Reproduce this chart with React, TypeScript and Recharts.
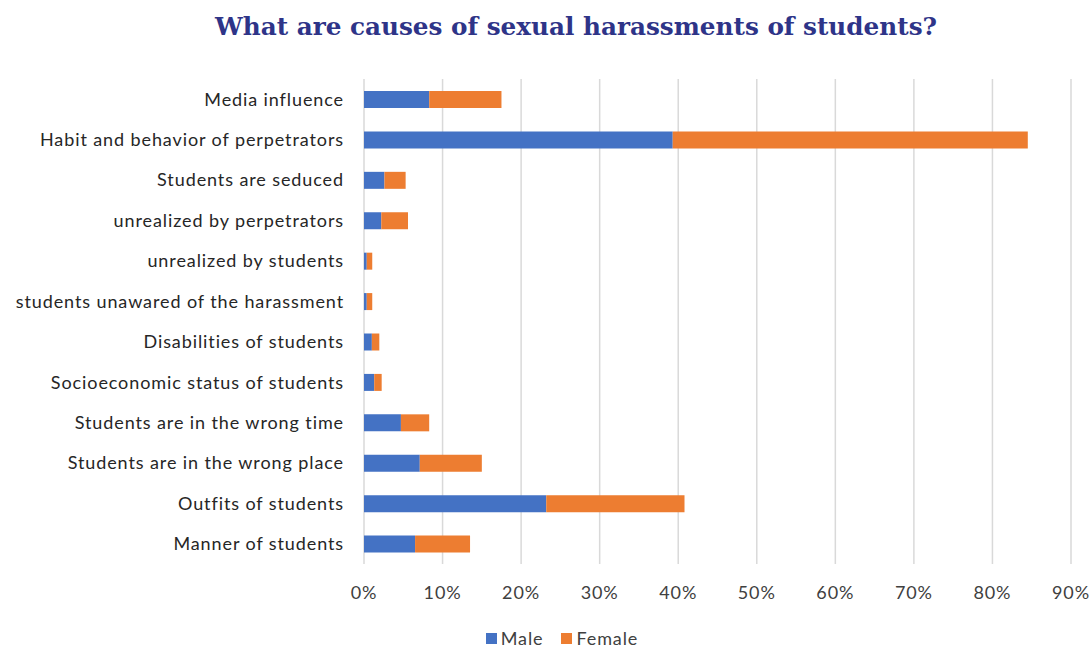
import { BarChart, Bar, XAxis, YAxis, CartesianGrid, Legend } from 'recharts'

const causes = [
  'Media influence',
  'Habit and behavior of perpetrators',
  'Students are seduced',
  'unrealized by perpetrators',
  'unrealized by students',
  'students unawared of the harassment',
  'Disabilities of students',
  'Socioeconomic status of students',
  'Students are in the wrong time',
  'Students are in the wrong place',
  'Outfits  of students',
  'Manner of students',
]

const maleValues = [8.3, 39.3, 2.6, 2.2, 0.35, 0.35, 1.0, 1.3, 4.7, 7.1, 23.2, 6.5]
const femaleValues = [9.2, 45.2, 2.7, 3.4, 0.7, 0.7, 0.95, 0.95, 3.6, 7.9, 17.6, 7.0]

const percentTicks = [0, 10, 20, 30, 40, 50, 60, 70, 80, 90]

const seriesInfo = [
  { key: 'male', name: 'Male', color: '#4472C4' },
  { key: 'female', name: 'Female', color: '#ED7D31' },
]

const chartData = causes.map((cause, i) => ({
  cause,
  male: maleValues[i],
  female: femaleValues[i],
}))

const font = 'Lato, "Open Sans", sans-serif'
const textStyle = { fontSize: 18, letterSpacing: 0.9 }

function LegendContent() {
  return (
    <div style={{ display: 'flex', justifyContent: 'center', alignItems: 'center', height: 24, fontFamily: font, ...textStyle, color: '#404040' }}>
      {seriesInfo.map((s) => (
        <span key={s.key} style={{ display: 'flex', alignItems: 'center', margin: '0 9px' }}>
          <span style={{ width: 11, height: 11, background: s.color, marginRight: 4 }} />
          {s.name}
        </span>
      ))}
    </div>
  )
}

export default function App() {
  return (
    <div style={{ position: 'absolute', left: 0, top: 0, width: 1092, height: 648, background: '#fff' }}>
      <div
        style={{
          position: 'absolute',
          top: 12,
          left: 0,
          width: 1152,
          textAlign: 'center',
          fontFamily: '"DejaVu Serif", serif',
          fontWeight: 'bold',
          fontSize: 24.7,
          color: '#2E3488',
        }}
      >
        What are causes of sexual harassments of students?
      </div>
      <BarChart
        width={1092}
        height={648}
        data={chartData}
        layout='vertical'
        margin={{ top: 79, right: 21, bottom: 20, left: 0 }}
        barSize={17}
        style={{ fontFamily: font }}
      >
        <CartesianGrid horizontal={false} stroke='#d9d9d9' strokeWidth={1.5} />
        <XAxis
          type='number'
          domain={[0, 90]}
          ticks={percentTicks}
          tickFormatter={(v) => `${v}%`}
          axisLine={false}
          tickLine={false}
          tickMargin={16}
          height={40}
          tick={{ fill: '#404040', ...textStyle }}
        />
        <YAxis
          type='category'
          dataKey='cause'
          width={364}
          axisLine={false}
          tickLine={false}
          tickMargin={14}
          interval={0}
          tick={{ fill: '#262626', ...textStyle }}
        />
        <Legend content={<LegendContent />} wrapperStyle={{ top: 626, left: 0, width: 1124, height: 24 }} />
        {seriesInfo.map((s) => (
          <Bar key={s.key} dataKey={s.key} name={s.name} stackId='a' fill={s.color} isAnimationActive={false} />
        ))}
      </BarChart>
    </div>
  )
}
